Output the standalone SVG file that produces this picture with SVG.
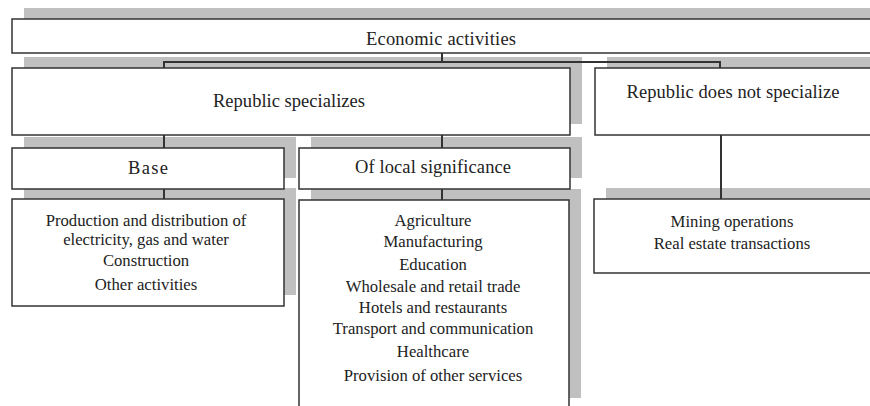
<svg xmlns="http://www.w3.org/2000/svg" width="870" height="406" viewBox="0 0 870 406">
<style>
.sh{fill:#c0c0c0}
.bx{fill:#fff;stroke:#333;stroke-width:1.5}
.ln{stroke:#333;stroke-width:2;fill:none}
text{font-family:"Liberation Serif","Times New Roman",serif;fill:#222;text-anchor:middle}
.h{font-size:18.5px}
.t{font-size:16.7px}
</style>
<rect width="870" height="406" fill="#fff"/>
<g id="shadows">
<rect class="sh" x="24" y="8" width="858" height="34"/>
<rect class="sh" x="24" y="57" width="558" height="67"/>
<rect class="sh" x="607" y="57" width="275" height="67"/>
<rect class="sh" x="24" y="137" width="272" height="41"/>
<rect class="sh" x="311" y="137" width="271" height="41"/>
<rect class="sh" x="24" y="188" width="272" height="107"/>
<rect class="sh" x="311" y="189" width="270" height="209"/>
<rect class="sh" x="606" y="188" width="276" height="74"/>
</g>
<g id="connectors">
<path class="ln" d="M442 53V62M164 68V62H720V68"/>
<path class="ln" d="M164 135V148M442 135V148"/>
<path class="ln" d="M164 189V199M442 189V200"/>
<path class="ln" d="M721 135V199"/>
</g>
<g id="economic">
<rect class="bx" x="12" y="19" width="870" height="34"/>
<text class="h" x="441" y="45" textLength="150" lengthAdjust="spacing">Economic activities</text>
</g>
<g id="specializes">
<rect class="bx" x="12" y="68" width="558" height="67"/>
<text class="h" x="289" y="107" textLength="152" lengthAdjust="spacing">Republic specializes</text>
</g>
<g id="notspecialize">
<rect class="bx" x="595" y="68" width="287" height="67"/>
<text class="h" x="733" y="98" textLength="213" lengthAdjust="spacing">Republic does not specialize</text>
</g>
<g id="base">
<rect class="bx" x="12" y="148" width="272" height="41"/>
<text class="h" x="148" y="174" textLength="40" lengthAdjust="spacing">Base</text>
</g>
<g id="local">
<rect class="bx" x="299" y="148" width="271" height="41"/>
<text class="h" x="433" y="173" textLength="156" lengthAdjust="spacing">Of local significance</text>
</g>
<g id="base-list">
<rect class="bx" x="12" y="199" width="272" height="107"/>
<text class="t" x="146" y="226">Production and distribution of</text>
<text class="t" x="146" y="245">electricity, gas and water</text>
<text class="t" x="146" y="266">Construction</text>
<text class="t" x="146" y="290">Other activities</text>
</g>
<g id="local-list">
<rect class="bx" x="299" y="200" width="270" height="210"/>
<text class="t" x="433" y="226">Agriculture</text>
<text class="t" x="433" y="247">Manufacturing</text>
<text class="t" x="433" y="270">Education</text>
<text class="t" x="433" y="292">Wholesale and retail trade</text>
<text class="t" x="433" y="313">Hotels and restaurants</text>
<text class="t" x="433" y="334">Transport and communication</text>
<text class="t" x="433" y="357">Healthcare</text>
<text class="t" x="433" y="381">Provision of other services</text>
</g>
<g id="not-list">
<rect class="bx" x="594" y="199" width="288" height="74"/>
<text class="t" x="732" y="227">Mining operations</text>
<text class="t" x="732" y="249">Real estate transactions</text>
</g>
</svg>
